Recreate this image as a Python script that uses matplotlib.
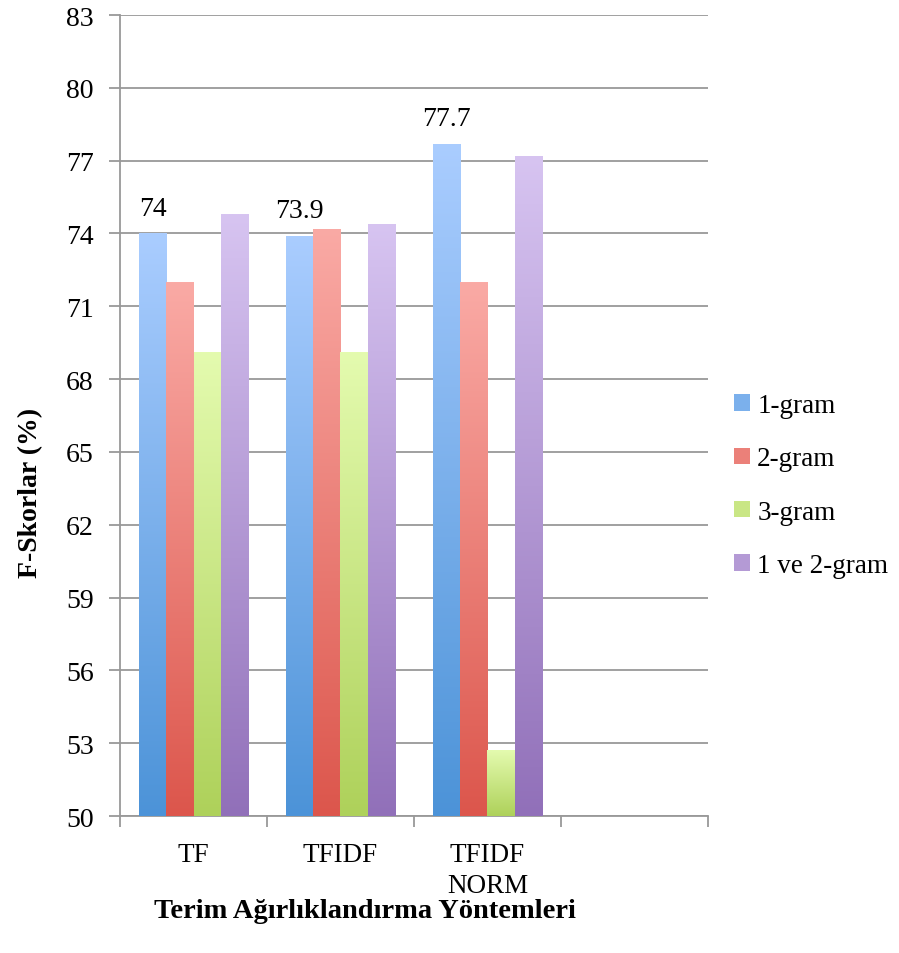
import numpy as np
import matplotlib
matplotlib.use("Agg")
import matplotlib.pyplot as plt
from matplotlib.colors import LinearSegmentedColormap
from matplotlib.patches import Patch

plt.rcParams['font.family'] = ['Liberation Serif', 'DejaVu Serif']

categories = ["TF", "TFIDF", "TFIDF\nNORM", ""]
series = ["1-gram", "2-gram", "3-gram", "1 ve 2-gram"]
unigram = [74.0, 73.9, 77.7]
bigram = [72.0, 74.2, 72.0]
trigram = [69.1, 69.1, 52.7]
uni_bi = [74.8, 74.4, 77.2]
values = [unigram, bigram, trigram, uni_bi]

# (top, bottom) gradient colours per series
grad = [("#AACDFF", "#4C93D8"),
        ("#FAAAA5", "#DC564C"),
        ("#E4FBAF", "#AED15A"),
        ("#D7C4F1", "#9170B9")]

fig = plt.figure(figsize=(8.99, 9.54), dpi=100)
ax = fig.add_axes([0.1335, 0.1436, 0.654, 0.8396])

ymin, ymax = 50, 83
width = 0.184
x = np.arange(3)
for i, (vals, (top, bot)) in enumerate(zip(values, grad)):
    pos = x + (i - 1.5) * width
    bars = ax.bar(pos, np.array(vals) - ymin, width, bottom=ymin,
                  color="none", edgecolor="none", zorder=3)
    cmap = LinearSegmentedColormap.from_list("g%d" % i, [bot, top])
    for b in bars:
        x0, y0 = b.get_x(), b.get_y()
        im = ax.imshow(np.linspace(0, 1, 256).reshape(-1, 1), cmap=cmap,
                       origin="lower", aspect="auto", zorder=3,
                       extent=[x0, x0 + b.get_width(), y0, y0 + b.get_height()])
        im.set_clip_path(b)

# value labels on the 1-gram bars
for xi, v in zip(x - 1.5 * width, unigram):
    ax.annotate("%g" % v, (xi, v), xytext=(0, 9), textcoords="offset points",
                ha="center", va="bottom", fontsize=20, zorder=5)

ax.set_xlim(-0.5, 3.5)
ax.set_ylim(ymin, ymax)
ax.set_yticks(np.arange(50, 84, 3))
ax.yaxis.grid(True, color="#999999", linewidth=1.3, zorder=1)
ax.set_axisbelow(True)
ax.set_xticks(np.arange(-0.5, 4, 1))
ax.set_xticklabels([])
ax.set_xticks(np.arange(4), minor=True)
ax.set_xticklabels(categories, minor=True, fontsize=19.5, linespacing=1.3)
ax.tick_params(axis="x", which="minor", length=0, pad=19)
ax.tick_params(axis="x", which="major", length=8, width=1.3, color="#999999")
ax.tick_params(axis="y", length=8, width=1.3, color="#999999", pad=11, labelsize=20)
for s in ["top", "right"]:
    ax.spines[s].set_visible(False)
for s in ["left", "bottom"]:
    ax.spines[s].set_color("#999999")
    ax.spines[s].set_linewidth(1.3)

fig.text(0.034, 0.483, "F-Skorlar (%)", rotation=90, fontsize=20,
         fontweight="bold", ha="center", va="center")
fig.text(0.406, 0.045, "Terim Ağırlıklandırma Yöntemleri", fontsize=20.5,
         fontweight="bold", ha="center", va="center")

handles = [Patch(facecolor=LinearSegmentedColormap.from_list("h", [b, t])(0.5),
                 edgecolor="none") for t, b in grad]
fig.legend(handles, series, loc="center left", bbox_to_anchor=(0.817, 0.49),
           frameon=False, fontsize=19.5, handlelength=0.56, handleheight=0.56,
           handletextpad=0.28, labelspacing=1.05, borderaxespad=0,
           borderpad=0)

fig.savefig("out.png", dpi=100)
